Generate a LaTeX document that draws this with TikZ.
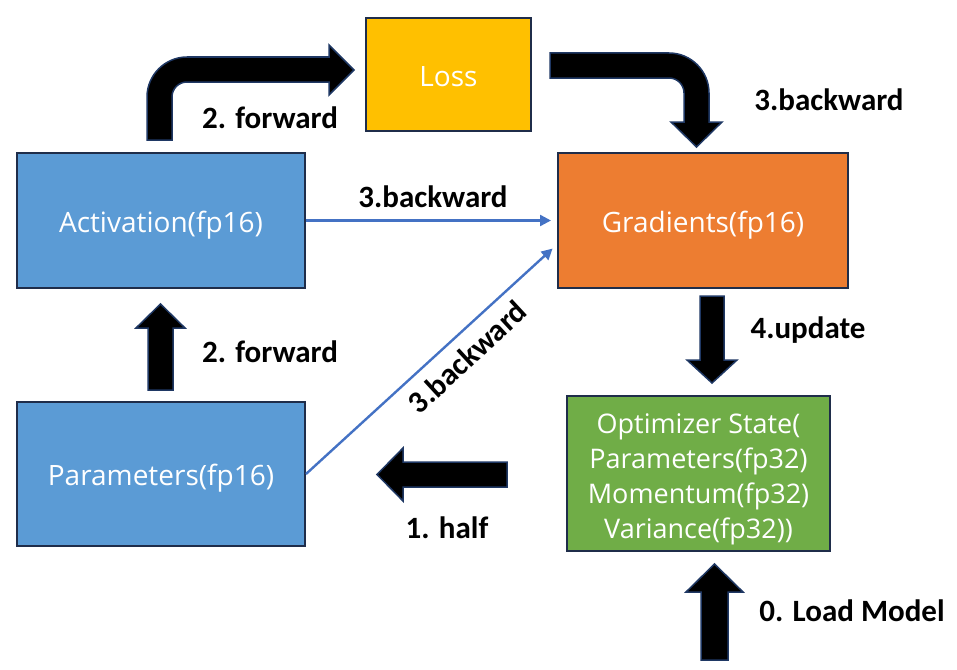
\documentclass[tikz,border=0pt]{standalone}
\usepackage{fontspec}
\setmainfont{Open Sans}
\newfontfamily\labelfont{Carlito}
\usetikzlibrary{arrows.meta,calc}
\definecolor{navy}{HTML}{1F2D4A}
\definecolor{bluebox}{HTML}{5B9BD5}
\definecolor{orangebox}{HTML}{ED7D31}
\definecolor{yellowbox}{HTML}{FFC000}
\definecolor{greenbox}{HTML}{70AD47}
\definecolor{thinblue}{HTML}{4472C4}
\definecolor{arrowedge}{HTML}{1F3864}
\tikzset{
  box/.style={draw=navy,line width=2pt,text=white,font=\fontsize{28}{34}\selectfont,align=center,inner sep=0pt,text height=26pt,text depth=3pt},
  lbl/.style={font=\labelfont\bfseries\fontsize{31}{36}\selectfont,text=black,inner sep=0pt},
  blockarrow/.style={fill=black,draw=arrowedge,line width=1.5pt,line join=miter},
  thinarrow/.style={draw=thinblue,line width=2.4pt,-{Triangle[length=11pt,width=11pt]},shorten >=6pt}
}
\begin{document}
\begin{tikzpicture}[x=1pt,y=-1pt]
\useasboundingbox (0,0) rectangle (957,669);
% boxes
\node[box,fill=yellowbox,minimum width=165pt,minimum height=113pt] (loss) at (448.5,74.5) {Loss};
\node[box,fill=bluebox,minimum width=288pt,minimum height=135pt] (act) at (161,220.5) {Activation(fp16)};
\node[box,fill=orangebox,minimum width=290pt,minimum height=135pt] (grad) at (703,220.5) {Gradients(fp16)};
\node[box,fill=bluebox,minimum width=288pt,minimum height=144pt] (par) at (161,474) {Parameters(fp16)};
\node[box,fill=greenbox,minimum width=263pt,minimum height=155pt] (opt) at (698.5,473.5) {};
\node[text=white,font=\fontsize{27}{35}\selectfont,align=center,inner sep=0pt] (optt) at (698.5,479) {Optimizer State(\\Parameters(fp32)\\Momentum(fp32)\\Variance(fp32))};
% thin blue connectors
\draw[thinarrow] (act.east) -- (act.east -| grad.west);
\coordinate (diagend) at ($(grad.west)+(0,24)$);
\draw[thinarrow] (par.east) -- (diagend);
% block arrows
% 2. forward (curved, activation -> loss)
\path[blockarrow] (147,140) -- (147,97) .. controls (147,75) and (165,57) .. (187,57)
  -- (329,57) -- (329,45) -- (354,70) -- (329,95) -- (329,82) -- (187,82)
  .. controls (178.7,82) and (172,88.7) .. (172,97) -- (172,140) -- cycle;
% 3.backward (curved, loss -> gradients)
\path[blockarrow] (550,53) -- (669,53) .. controls (691,53) and (709,71) .. (709,93)
  -- (709,122) -- (722,122) -- (696.5,147) -- (671,122) -- (684,122) -- (684,93)
  .. controls (684,84.7) and (677.3,78) .. (669,78) -- (550,78) -- cycle;
% 2. forward (parameters -> activation)
\path[blockarrow] (148,390) -- (148,328) -- (136,328) -- (160.5,304) -- (185,328) -- (173,328) -- (173,390) -- cycle;
% 4.update (gradients -> optimizer)
\path[blockarrow] (700,296) -- (724,296) -- (724,360) -- (737,360) -- (712,383) -- (687,360) -- (700,360) -- cycle;
% 1. half (optimizer -> parameters)
\path[blockarrow] (507,462) -- (403,462) -- (403,448) -- (377,474.5) -- (403,501) -- (403,487) -- (507,487) -- cycle;
% 0. Load Model
\path[blockarrow] (701,660) -- (701,592) -- (686,592) -- (714.5,564) -- (743,592) -- (728,592) -- (728,660) -- cycle;
% labels
\node[lbl] (l1) at (270,118) {2. forward};
\node[lbl] (l2) at (829,100) {3.backward};
\node[lbl] (l3) at (433,197) {3.backward};
\node[lbl] (l4) at (270,352) {2. forward};
\node[lbl] (l5) at (808,330) {4.update};
\node[lbl,rotate=42.7] (l6) at (467,357) {3.backward};
\node[lbl] (l7) at (447,528) {1. half};
\node[lbl] (l8) at (852,611) {0. Load Model};
\end{tikzpicture}
\end{document}
